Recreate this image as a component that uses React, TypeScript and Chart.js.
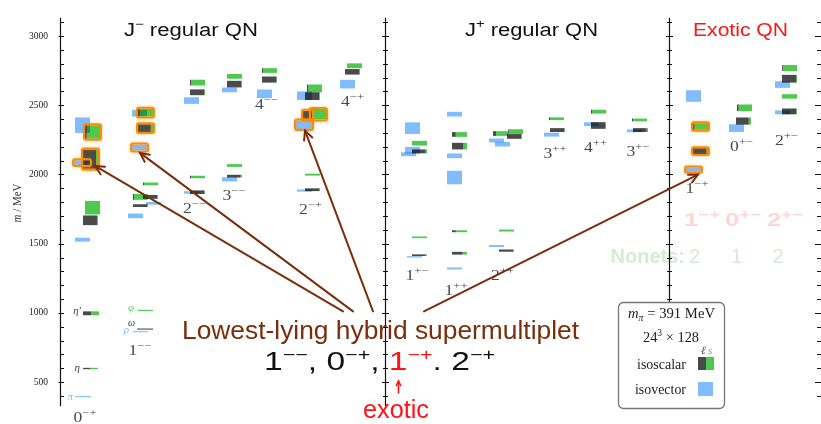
import React, { useEffect, useRef } from 'react';
import { Chart, registerables } from 'chart.js';

Chart.register(...registerables);

// ---------------- axis ----------------
const MASS_MIN = 325;
const MASS_MAX = 3133;
const massTickLabels = [500, 1000, 1500, 2000, 2500, 3000];
const X_MAX = 758;
const panelEdges = [0, 325, 609];

// ---------------- columns (J^PC) ----------------
const columnLabels = ['0−+', '1−−', '2−−', '3−−', '4−−', '2−+', '4−+', '1+−', '1++', '2++', '3++', '4++', '3+−', '1−+', '0+−', '2+−'];
const columnAnchor = [15, 68, 124, 162, 197, 237, 280, 345, 387, 429, 484, 524, 567, 626, 669, 715];

// ---------------- states ----------------
// [column, mass MeV, half error MeV, kind (v = isovector, s = isoscalar), light-quark fraction, hybrid]
type S = [number, number, number, 'v' | 's', number, number];

const jMinusStates: S[] = [
  [0, 395, 4, 'v', 0, 0], [0, 598, 5, 's', 0.5, 0], [0, 997, 14, 's', 0.5, 0], [0, 1529, 14, 'v', 0, 0],
  [0, 1669, 35, 's', 0.93, 0], [0, 1760, 49, 's', 0, 0], [0, 2356, 56, 'v', 0, 0], [0, 2307, 49, 's', 0.12, 1],
  [0, 2111, 70, 's', 0.87, 1], [0, 2086, 17, 'v', 0, 1],
  [1, 864, 4, 'v', 0, 0], [1, 883, 4, 's', 1, 0], [1, 1018, 4, 's', 0, 0], [1, 1701, 17, 'v', 0, 0],
  [1, 1775, 10, 's', 0.95, 0], [1, 1792, 10, 'v', 0, 0], [1, 1838, 21, 's', 0.07, 0], [1, 1838, 14, 's', 0.93, 0],
  [1, 1932, 10, 's', 0.07, 0], [1, 2195, 21, 'v', 0, 1], [1, 2335, 28, 's', 0.85, 1], [1, 2443, 24, 'v', 0, 0],
  [1, 2447, 28, 's', 0.12, 1],
  [2, 1870, 9, 'v', 0, 0], [2, 1872, 13, 's', 0.95, 0], [2, 1982, 9, 's', 0.07, 0], [2, 2534, 24, 'v', 0, 0],
  [2, 2594, 21, 's', 0.95, 0], [2, 2664, 21, 's', 0.07, 0],
  [3, 1965, 15, 'v', 0, 0], [3, 1988, 10, 's', 0.9, 0], [3, 2065, 10, 's', 0, 0], [3, 2611, 17, 'v', 0, 0],
  [3, 2653, 24, 's', 0.95, 0], [3, 2709, 17, 's', 0, 0],
  [4, 2583, 31, 'v', 0, 0], [4, 2686, 22, 's', 0.95, 0], [4, 2751, 17, 's', 0.07, 0],
  [5, 1884, 8, 'v', 0, 0], [5, 1890, 10, 's', 0.95, 0], [5, 1999, 7, 's', 0, 0], [5, 2569, 31, 'v', 0, 0],
  [5, 2566, 28, 's', 0.95, 0], [5, 2622, 28, 's', 0.07, 0], [5, 2359, 31, 'v', 0, 1], [5, 2429, 31, 's', 0.95, 1],
  [5, 2436, 38, 's', 0.15, 1],
  [6, 2653, 31, 'v', 0, 0], [6, 2742, 20, 's', 0.95, 0], [6, 2786, 17, 's', 0, 0],
];
const jMinusLayout: [number, number][] = [
  [0, 16], [8, 15], [8, 16], [0, 15], [8, 15], [10, 15], [0, 15], [10, 15], [8, 15], [-1, 16],
  [5, 15], [9, 16], [10, 15], [0, 15], [5, 15], [18, 15], [5, 15], [15, 15], [15, 15], [4, 15], [10, 15], [4, 15], [10, 15],
  [0, 15], [6, 15], [6, 15], [0, 15], [6, 15], [6, 15],
  [0, 15], [5, 15], [5, 15], [0, 15], [5, 15], [5, 15],
  [0, 15], [5, 15], [5, 15],
  [0, 15], [8, 15], [8, 15], [0, 15], [8, 15], [10, 15], [-1, 16], [6, 9], [14, 15],
  [0, 15], [5, 15], [7, 15],
];

const jPlusStates: S[] = [
  [7, 2335, 42, 'v', 0, 0], [7, 2226, 17, 's', 0, 0], [7, 2175, 24, 'v', 0, 0], [7, 2146, 14, 'v', 0, 0],
  [7, 2167, 14, 's', 0.9, 0], [7, 1546, 6, 's', 0, 0], [7, 1417, 6, 's', 0.9, 0], [7, 1405, 5, 'v', 0, 0],
  [8, 2436, 17, 'v', 0, 0], [8, 2289, 17, 's', 0.25, 0], [8, 2205, 24, 's', 0.75, 0], [8, 2135, 17, 'v', 0, 0],
  [8, 1978, 49, 'v', 0, 0], [8, 1590, 7, 's', 0.25, 0], [8, 1431, 10, 's', 0.7, 0], [8, 1321, 7, 'v', 0, 0],
  [9, 2246, 14, 'v', 0, 0], [9, 2219, 17, 'v', 0, 0], [9, 2296, 17, 's', 0.2, 0], [9, 2275, 17, 's', 0.95, 0],
  [9, 2310, 17, 's', 0.05, 0], [9, 1595, 7, 's', 0, 0], [9, 1450, 8, 's', 0.95, 0], [9, 1483, 7, 'v', 0, 0],
  [10, 2403, 10, 's', 0.07, 0], [10, 2321, 14, 's', 0.95, 0], [10, 2288, 14, 'v', 0, 0],
  [11, 2454, 14, 's', 0.07, 0], [11, 2363, 14, 'v', 0, 0], [11, 2354, 24, 's', 0.95, 0],
  [12, 2394, 10, 's', 0.07, 0], [12, 2316, 10, 'v', 0, 0], [12, 2321, 14, 's', 0.9, 0],
];
const jPlusLayout: [number, number][] = [
  [0, 15], [7, 15], [0, 15], [-4, 15], [7, 15], [7, 15], [7, 15], [2, 15],
  [0, 15], [5, 15], [5, 15], [0, 15], [0, 15], [5, 15], [5, 15], [0, 15],
  [0, 15], [6, 15], [4, 15], [18, 15], [19, 15], [10, 15], [10, 15], [0, 15],
  [5, 15], [6, 15], [0, 15],
  [7, 15], [0, 15], [7, 15],
  [5, 15], [0, 15], [6, 15],
];

const exoticStates: S[] = [
  [13, 2567, 42, 'v', 0, 0], [13, 2347, 24, 's', 0.1, 1], [13, 2169, 21, 's', 0.9, 1], [13, 2035, 16, 'v', 0, 1],
  [14, 2482, 24, 's', 0.1, 0], [14, 2386, 26, 's', 0.85, 0], [14, 2335, 28, 'v', 0, 0],
  [15, 2769, 22, 's', 0.05, 0], [15, 2692, 28, 's', 0.95, 0], [15, 2650, 24, 'v', 0, 0],
  [15, 2564, 16, 's', 0, 0], [15, 2456, 21, 's', 0.95, 0], [15, 2449, 14, 'v', 0, 0],
];
const exoticLayout: [number, number][] = [
  [0, 15], [7, 15], [7, 15], [0, 15],
  [8, 15], [7, 15], [0, 15],
  [7, 15], [7, 15], [0, 15], [7, 15], [7, 15], [0, 15],
];

// arrows from the annotation to the hybrid states, [x-units, mass]
const arrowStarts: [number, number][] = [[283, 1011], [293, 1011], [313, 1011], [364, 1011]];
const arrowTips: [number, number][] = [[35, 2062], [80, 2156], [245, 2317], [638, 1999]];

// ---------------- text layout (pixels) ----------------
const columnLabelPos: [number, number][] = [
  [85, 422], [140, 355], [194.5, 213], [234, 200], [266.5, 109], [310.5, 214], [352.5, 106],
  [417, 280], [456, 295], [502.5, 280], [555, 158], [595.5, 152], [638, 156],
  [697, 193], [741.5, 151], [786.5, 145],
];
const particleLabels: [string, number, number, string, number][] = [
  ['π', 73, 400, '#80bcff', 11], ['η', 80, 371, '#444', 11], ['η′', 81, 314, '#444', 11],
  ['φ', 134, 311, '#6fd46f', 11], ['ω', 135, 326, '#444', 10], ['ρ', 129, 333, '#80bcff', 11],
];

const C = {
  blue: '#80bcff', dark: '#4a4a4a', green: '#4dca4d', orange: '#ff8c00',
  brown: '#7b2d0c', red: '#ff1414', fadedRed: '#ffd6d6', fadedGreen: '#d6ebd6',
};
const SANS = "'Liberation Sans', Arial, sans-serif";
const SERIF = "'Liberation Serif', 'DejaVu Serif', serif";

type Run = { t: string; size: number; italic?: boolean; bold?: boolean; color?: string; dy?: number };

function fontOf(r: Run, family: string) {
  return `${r.italic ? 'italic ' : ''}${r.bold ? 'bold ' : ''}${r.size}px ${family}`;
}

function drawRuns(ctx: CanvasRenderingContext2D, runs: Run[], x: number, y: number, align: 'left' | 'center' | 'right', family: string, color: string, fit?: number) {
  ctx.save();
  let total = 0;
  const ws = runs.map((r) => { ctx.font = fontOf(r, family); const w = ctx.measureText(r.t).width; total += w; return w; });
  const s = fit ? fit / total : 1;
  const W = total * s;
  const x0 = align === 'left' ? x : align === 'center' ? x - W / 2 : x - W;
  ctx.translate(x0, y);
  ctx.scale(s, 1);
  ctx.textAlign = 'left';
  ctx.textBaseline = 'alphabetic';
  let cx = 0;
  runs.forEach((r, i) => {
    ctx.font = fontOf(r, family);
    ctx.fillStyle = r.color || color;
    ctx.fillText(r.t, cx, r.dy || 0);
    cx += ws[i];
  });
  ctx.restore();
}

const qn = (s: string, size = 14, sup = 10, dy = -6, bold = false, color?: string): Run[] => [
  { t: s[0], size, bold, color }, { t: s.slice(1), size: sup, dy, bold, color },
];

function rrect(ctx: CanvasRenderingContext2D, x: number, y: number, w: number, h: number, r: number) {
  ctx.beginPath();
  if ((ctx as any).roundRect) (ctx as any).roundRect(x, y, w, h, r);
  else ctx.rect(x, y, w, h);
}

function seg(ctx: CanvasRenderingContext2D, x0: number, y0: number, x1: number, y1: number) {
  ctx.beginPath(); ctx.moveTo(x0, y0); ctx.lineTo(x1, y1); ctx.stroke();
}

function arrow(ctx: CanvasRenderingContext2D, x0: number, y0: number, x1: number, y1: number, head: number) {
  seg(ctx, x0, y0, x1, y1);
  const a = Math.atan2(y1 - y0, x1 - x0);
  ctx.beginPath();
  ctx.moveTo(x1 - head * Math.cos(a - 0.45), y1 - head * Math.sin(a - 0.45));
  ctx.lineTo(x1, y1);
  ctx.lineTo(x1 - head * Math.cos(a + 0.45), y1 - head * Math.sin(a + 0.45));
  ctx.stroke();
}

const panels: [S[], [number, number][]][] = [
  [jMinusStates, jMinusLayout], [jPlusStates, jPlusLayout], [exoticStates, exoticLayout],
];

const spectrumPlugin = {
  id: 'spectrum',
  afterDraw(chart: any) {
    const { ctx, chartArea: ca, scales } = chart;
    const X = (u: number) => scales.x.getPixelForValue(u);
    const Y = (m: number) => scales.y.getPixelForValue(m);
    ctx.save();

    // faded background texts
    [['1−+', 684], ['0+−', 725], ['2+−', 767]].forEach(([t, x]) => {
      drawRuns(ctx, qn(t as string, 18, 13, -7, true), x as number, 226, 'left', SANS, C.fadedRed, 36);
    });
    drawRuns(ctx, [{ t: 'Nonets:', size: 20, bold: true }], 685, 263, 'right', SANS, C.fadedGreen);
    [['2', 694.5], ['1', 736.5], ['2', 778]].forEach(([t, x]) => {
      drawRuns(ctx, [{ t: t as string, size: 20 }], x as number, 263, 'center', SANS, C.fadedGreen);
    });

    // axis lines and ticks
    ctx.strokeStyle = '#111';
    ctx.lineWidth = 1.2;
    panelEdges.forEach((u) => { const px = Math.round(X(u)) + 0.5; seg(ctx, px, ca.top, px, ca.bottom); });
    ctx.lineWidth = 1;
    for (let m = 400; m <= 3100; m += 100) {
      const py = Math.round(Y(m)) + 0.5;
      const major = m % 500 === 0;
      const lx = Math.round(X(0)) + 0.5;
      seg(ctx, lx - (major ? 2 : 0), py, lx + 3.5, py);
      panelEdges.slice(1).forEach((u) => {
        const px = Math.round(X(u)) + 0.5;
        seg(ctx, px - (major ? 3.5 : 2.5), py, px + (major ? 3.5 : 2.5), py);
      });
      seg(ctx, chart.width - (major ? 6 : 4), py, chart.width, py);
    }

    // state boxes
    ctx.globalCompositeOperation = 'multiply';
    const outlines: number[][] = [];
    panels.forEach(([states, layout]) => {
      states.forEach((s, i) => {
        const [col, m, h, kind, light, hybrid] = s;
        const [off, w] = layout[i];
        const u0 = columnAnchor[col] + off;
        const x0 = X(u0), x1 = X(u0 + w), y0 = Y(m + h), y1 = Y(m - h);
        if (kind === 'v') {
          ctx.fillStyle = C.blue;
          ctx.fillRect(x0, y0, x1 - x0, y1 - y0);
        } else {
          const xs = x0 + (x1 - x0) * light;
          ctx.fillStyle = C.dark;
          if (xs > x0) ctx.fillRect(x0, y0, xs - x0, y1 - y0);
          ctx.fillStyle = C.green;
          if (x1 > xs) ctx.fillRect(xs, y0, x1 - xs, y1 - y0);
        }
        if (hybrid) outlines.push([x0, y0, x1, y1]);
      });
    });
    ctx.globalCompositeOperation = 'source-over';

    // hybrid outlines
    ctx.strokeStyle = C.orange;
    ctx.lineWidth = 2;
    ctx.shadowColor = 'rgba(255,140,0,0.55)';
    ctx.shadowBlur = 3;
    outlines.forEach(([x0, y0, x1, y1]) => {
      rrect(ctx, x0 - 1, y0 - 1, x1 - x0 + 2, y1 - y0 + 2, 2);
      ctx.stroke();
    });
    ctx.shadowBlur = 0;
    ctx.shadowColor = 'transparent';

    // column labels
    columnLabels.forEach((lab, i) => {
      const [cx, by] = columnLabelPos[i];
      drawRuns(ctx, qn(lab, 14, 10, -6), cx, by, 'center', SERIF, '#4a4a4a', 23);
    });
    particleLabels.forEach(([t, x, y, col, size]) => {
      drawRuns(ctx, [{ t, size, italic: true }], x, y, 'right', SERIF, col);
    });

    // panel titles
    drawRuns(ctx, [{ t: 'J', size: 18 }, { t: '−', size: 12, dy: -8 }, { t: ' regular QN', size: 18 }], 124, 36, 'left', SANS, '#111', 134);
    drawRuns(ctx, [{ t: 'J', size: 18 }, { t: '+', size: 12, dy: -8 }, { t: ' regular QN', size: 18 }], 465, 36, 'left', SANS, '#111', 133);
    drawRuns(ctx, [{ t: 'Exotic QN', size: 18 }], 693, 36, 'left', SANS, C.red, 95);

    // axis title
    ctx.save();
    ctx.translate(21, 203);
    ctx.rotate(-Math.PI / 2);
    drawRuns(ctx, [{ t: 'm', size: 13, italic: true }, { t: ' / MeV', size: 13 }], 0, 0, 'center', SERIF, '#333', 39);
    ctx.restore();

    // legend
    ctx.fillStyle = '#fff';
    ctx.strokeStyle = '#777';
    ctx.lineWidth = 1.3;
    rrect(ctx, 618.5, 302.5, 106, 106, 5);
    ctx.fill();
    ctx.stroke();
    drawRuns(ctx, [{ t: 'm', size: 15, italic: true }, { t: 'π', size: 10, italic: true, dy: 3 }, { t: ' = 391 MeV', size: 15 }], 671.5, 318, 'center', SERIF, '#222', 87);
    drawRuns(ctx, [{ t: '24', size: 15 }, { t: '3', size: 10, dy: -6 }, { t: ' × 128', size: 15 }], 671, 342, 'center', SERIF, '#222', 56);
    drawRuns(ctx, [{ t: 'ℓ', size: 11, italic: true }], 701, 354, 'left', SERIF, '#444');
    drawRuns(ctx, [{ t: 's', size: 11, italic: true }], 708, 354, 'left', SERIF, C.green);
    drawRuns(ctx, [{ t: 'isoscalar', size: 15 }], 686, 369, 'right', SERIF, '#222', 49);
    drawRuns(ctx, [{ t: 'isovector', size: 15 }], 686, 394, 'right', SERIF, '#222', 51);
    ctx.fillStyle = C.dark; ctx.fillRect(698, 357, 8, 13);
    ctx.fillStyle = C.green; ctx.fillRect(706, 357, 8, 13);
    ctx.fillStyle = C.blue; ctx.fillRect(698, 382, 15, 14);

    // annotation arrows
    ctx.strokeStyle = C.brown;
    ctx.lineWidth = 2;
    ctx.lineCap = 'round';
    arrowStarts.forEach(([u, m], i) => {
      const [tu, tm] = arrowTips[i];
      arrow(ctx, X(u), Y(m), X(tu), Y(tm), 10);
    });

    // annotation text
    drawRuns(ctx, [{ t: 'Lowest-lying hybrid supermultiplet', size: 26 }], 182, 338.5, 'left', SANS, C.brown, 397);
    drawRuns(ctx, [
      { t: '1', size: 25 }, { t: '−−', size: 16, dy: -10 }, { t: ', 0', size: 25 }, { t: '−+', size: 16, dy: -10 },
      { t: ', ', size: 25 }, { t: '1', size: 25, color: C.red }, { t: '−+', size: 16, dy: -10, color: C.red },
      { t: '. 2', size: 25 }, { t: '−+', size: 16, dy: -10 },
    ], 264, 370, 'left', SANS, '#111', 231);
    drawRuns(ctx, [{ t: 'exotic', size: 25 }], 363, 418, 'left', SANS, C.red, 66);
    ctx.strokeStyle = C.red;
    ctx.lineWidth = 1.6;
    arrow(ctx, 398.5, 393, 398.5, 381, 5);

    ctx.restore();
  },
};

export default function App() {
  const ref = useRef<HTMLCanvasElement>(null);
  useEffect(() => {
    const points: { x: number; y: number }[] = [];
    panels.forEach(([states, layout]) => states.forEach((s, i) => {
      points.push({ x: columnAnchor[s[0]] + layout[i][0] + layout[i][1] / 2, y: s[1] });
    }));
    const chart = new Chart(ref.current as HTMLCanvasElement, {
      type: 'scatter',
      data: { datasets: [{ data: points, pointRadius: 0, pointHoverRadius: 0, showLine: false }] },
      options: {
        animation: false,
        responsive: false,
        events: [],
        layout: { padding: { left: 0, right: 3, top: 7, bottom: 16 } },
        plugins: { legend: { display: false }, tooltip: { enabled: false } },
        scales: {
          x: { type: 'linear', min: 0, max: X_MAX, display: false },
          y: {
            type: 'linear',
            min: MASS_MIN,
            max: MASS_MAX,
            afterFit: (s: any) => { s.width = 60; },
            afterBuildTicks: (s: any) => { s.ticks = massTickLabels.map((v) => ({ value: v })); },
            grid: { display: false, drawTicks: false },
            border: { display: false },
            ticks: {
              padding: 12,
              color: '#222',
              font: { family: SERIF, size: 9.5 },
              callback: (v: any) => String(v),
            },
          },
        },
      } as any,
      plugins: [spectrumPlugin],
    });
    return () => chart.destroy();
  }, []);
  return (
    <div style={{ position: 'absolute', left: 0, top: 0, width: 821, height: 424, background: '#fff' }}>
      <canvas ref={ref} width={821} height={424} style={{ display: 'block' }} />
    </div>
  );
}
